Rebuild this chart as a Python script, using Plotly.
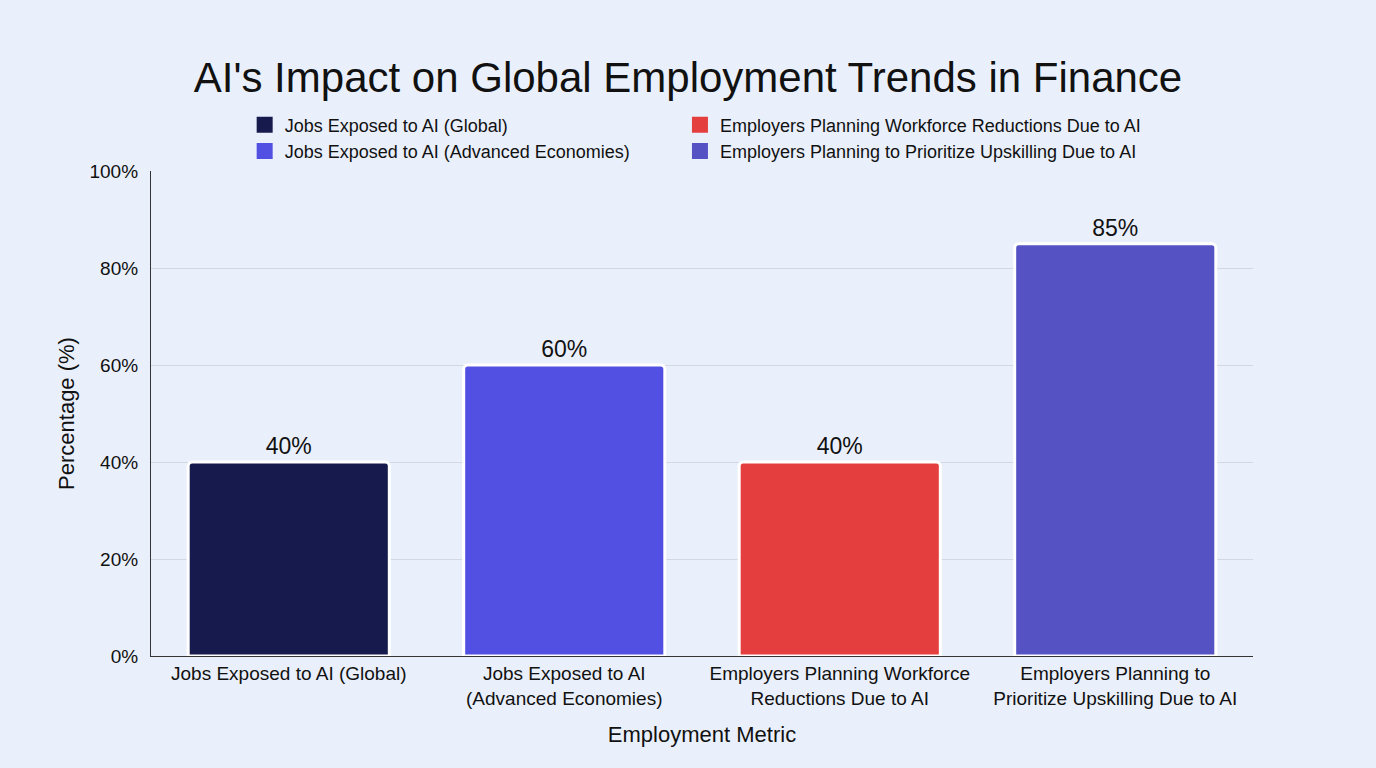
import plotly.graph_objects as go

categories = [
    "Jobs Exposed to AI (Global)",
    "Jobs Exposed to AI (Advanced Economies)",
    "Employers Planning Workforce Reductions Due to AI",
    "Employers Planning to Prioritize Upskilling Due to AI",
]
tick_labels = [
    "Jobs Exposed to AI (Global)",
    "Jobs Exposed to AI<br>(Advanced Economies)",
    "Employers Planning Workforce<br>Reductions Due to AI",
    "Employers Planning to<br>Prioritize Upskilling Due to AI",
]
values = [40, 60, 40, 85]
colors = ["#171a4d", "#5150e3", "#e53e3e", "#5553c4"]
legend_ids = ["legend", "legend", "legend2", "legend2"]

BG = "#eaf0fb"
FONT = "Liberation Sans, Arial, Helvetica, sans-serif"

fig = go.Figure()
for i, cat in enumerate(categories):
    fig.add_trace(go.Bar(
        x=[tick_labels[i]], y=[values[i]], name=cat, showlegend=False,
        marker=dict(color=colors[i], line=dict(color="white", width=3), cornerradius=4),
        text=[f"{values[i]}%"], textposition="outside",
        textfont=dict(size=23, color="#111111"),
        cliponaxis=False,
    ))
# legend entries (square swatches)
for i, cat in enumerate(categories):
    fig.add_trace(go.Scatter(
        x=[None], y=[None], mode="markers", name=cat,
        marker=dict(symbol="square", size=16, color=colors[i], line=dict(width=0)),
        legend=legend_ids[i], showlegend=True,
    ))

fig.update_layout(
    width=1376, height=768,
    paper_bgcolor=BG, plot_bgcolor=BG,
    font=dict(family=FONT, color="#111111"),
    barmode="relative", bargap=0.27,
    margin=dict(l=151, r=123, t=171, b=112),
    title=dict(text="AI's Impact on Global Employment Trends in Finance",
               x=0.5, xanchor="center", y=0.9, yanchor="middle",
               font=dict(size=42, color="#111111")),
    legend=dict(x=0.085, xanchor="left", y=1.133, yanchor="top",
                bgcolor="rgba(0,0,0,0)", font=dict(size=18),
                tracegroupgap=0, itemwidth=30),
    legend2=dict(x=0.48, xanchor="left", y=1.133, yanchor="top",
                 bgcolor="rgba(0,0,0,0)", font=dict(size=18),
                 tracegroupgap=0, itemwidth=30),
    xaxis=dict(title=dict(text="Employment Metric", font=dict(size=22), standoff=19),
               tickfont=dict(size=19), showline=True, linecolor="#333333",
               linewidth=1.2, showgrid=False, ticks="",
               range=[-0.5, 3.5], type="category"),
    yaxis=dict(title=dict(text="Percentage (%)", font=dict(size=22), standoff=8),
               range=[0, 100], dtick=20, ticksuffix="%", tickfont=dict(size=19),
               ticklabelstandoff=8,
               showline=True, linecolor="#333333", linewidth=1.2,
               gridcolor="#d3d8e0", gridwidth=1, zeroline=False, ticks=""),
)

fig.write_html("out.html")
